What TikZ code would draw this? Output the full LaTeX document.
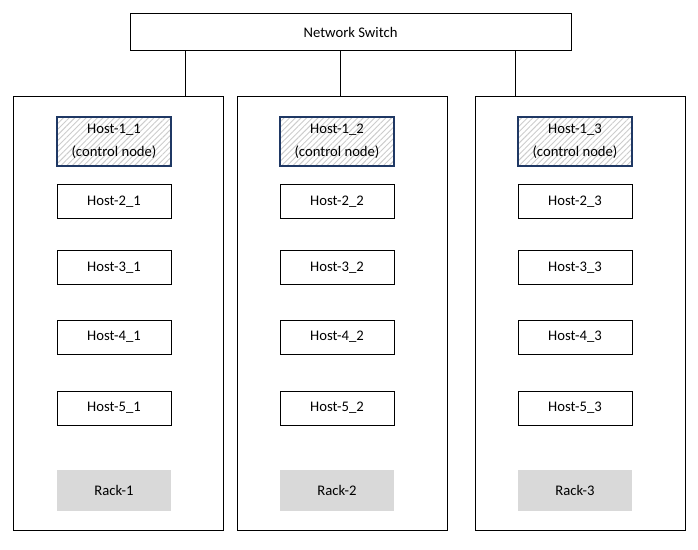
\documentclass[tikz,border=0pt]{standalone}
\usepackage{fontspec}
\setmainfont{Carlito}
\usetikzlibrary{patterns.meta,positioning}
\definecolor{navy}{RGB}{31,56,100}
\definecolor{rackgray}{RGB}{217,217,217}
\tikzset{
  box/.style={draw=black,line width=0.75pt,inner sep=0pt,align=center,
    font=\fontsize{11}{17}\selectfont},
  host/.style={box,minimum width=85.5pt,minimum height=25.5pt},
  ctrl/.style={host,draw=navy,line width=1.5pt,minimum height=36pt,
    pattern={Lines[angle=45,distance=3pt,line width=0.7pt]},pattern color=gray!40},
  rack/.style={box,minimum width=157.5pt,minimum height=324.75pt},
  rack label/.style={box,draw=none,fill=rackgray,minimum width=85.5pt,minimum height=30.75pt},
  link/.style={draw=black,line width=0.75pt},
}

\begin{document}
\begin{tikzpicture}[x=0.75pt,y=-0.75pt]
  \useasboundingbox (0,0) rectangle (698,549);
  \node[box,minimum width=330.75pt,minimum height=27.75pt] (sw) at (350.5,32.5) {Network Switch};
  % racks
  \foreach \r/\rx/\hx/\tx in {1/118/114/185,2/342/337/340,3/580/575/515} {
    \node[rack] (rack\r) at (\rx,313.5) {};
    \coordinate (top\r) at (\tx,97);
    \draw[link] (sw.south -| top\r) -- (top\r);
    \node[ctrl] (h1\r) at (\hx,141.5) {Host-1\_\r\\(control node)};
    \foreach \h/\hy in {2/201.5,3/267.5,4/337,5/408}
      \node[host] (h\h\r) at (\hx,\hy) {Host-\h\_\r};
    \node[rack label] (lbl\r) at (\hx,490.5) {Rack-\r};
  }
\end{tikzpicture}
\end{document}
